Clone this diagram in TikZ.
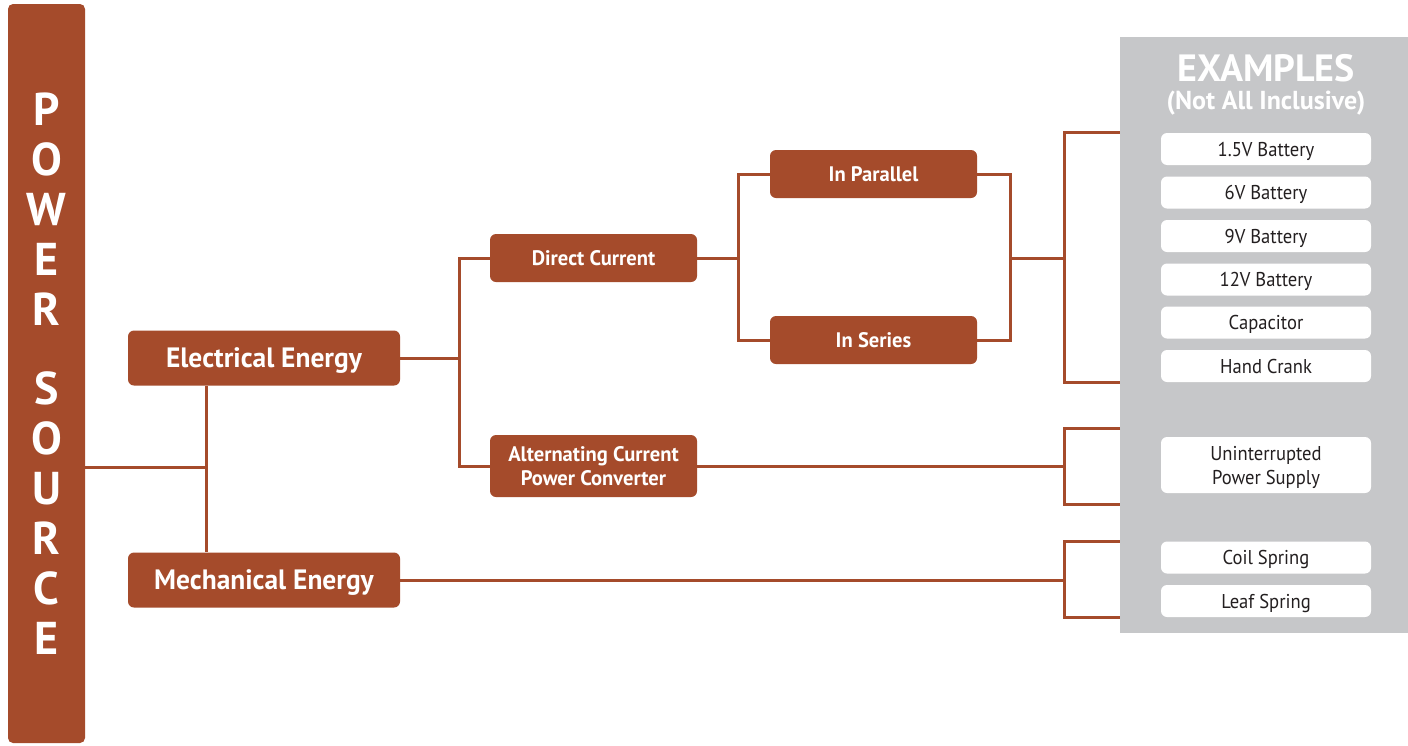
\documentclass[tikz,border=0pt]{standalone}
\usepackage{fontspec}
\setmainfont{PT Sans}
\newfontfamily\condfont{PT Sans}[FakeStretch=0.93]
\newfontfamily\catfont{PT Sans}[FakeStretch=0.98]
\definecolor{rust}{HTML}{A54B2B}
\definecolor{panelgray}{HTML}{C6C7C9}
\definecolor{ink}{HTML}{231F20}
\tikzset{
  catbox/.style={fill=rust, rounded corners=6pt, text=white, inner sep=0pt, align=center,
    text depth=0pt, font=\catfont\bfseries\fontsize{21}{24}\selectfont},
  bigcat/.style={catbox, minimum width=272pt, minimum height=55pt,
    font=\catfont\bfseries\fontsize{28}{30}\selectfont},
  midcat/.style={catbox, minimum width=207pt, minimum height=48pt},
  exbox/.style={fill=white, rounded corners=6pt, text=ink, inner sep=0pt, align=center,
    text depth=0pt, minimum width=210pt, minimum height=32pt,
    font=\condfont\fontsize{20}{24}\selectfont},
  link/.style={draw=rust, line width=3pt, line join=miter}
}
\begin{document}
\begin{tikzpicture}[x=1pt,y=-1pt]
\useasboundingbox (0,0) rectangle (1408,745);

% vertical title bar
\node[fill=rust, rounded corners=5pt, minimum width=77pt, minimum height=739pt, inner sep=0pt] (ps) at (46.5,373.5) {};
\node[text=white, align=center, inner sep=0pt, font=\bfseries\fontsize{46}{50}\selectfont] (pstitle) at (46.5,373.5)
  {P\\O\\W\\E\\R\\[29pt]S\\O\\U\\R\\C\\E};

% categories
\node[bigcat] (elec) at (264,358) {Electrical Energy};
\node[bigcat] (mech) at (264,580) {Mechanical Energy};
\node[midcat] (dc) at (593.5,258) {Direct Current};
\node[catbox, minimum width=207pt, minimum height=62pt] (ac) at (593.5,466) {Alternating Current\\Power Converter};
\node[midcat] (par) at (873.5,174) {In Parallel};
\node[midcat] (ser) at (873.5,340) {In Series};

% examples panel
\node[fill=panelgray, minimum width=288pt, minimum height=596pt, inner sep=0pt] (panel) at (1264,335) {};
\node[text=white, inner sep=0pt, font=\bfseries\fontsize{38}{42}\selectfont] (extitle) at (1266,68) {EXAMPLES};
\node[text=white, inner sep=0pt, font=\bfseries\fontsize{26}{28}\selectfont] (exsub) at (1266,103) {(Not All Inclusive)};
\node[exbox] (b15) at (1266,149) {1.5V Battery};
\node[exbox] (b6) at (1266,192.5) {6V Battery};
\node[exbox] (b9) at (1266,236) {9V Battery};
\node[exbox] (b12) at (1266,279.5) {12V Battery};
\node[exbox] (capa) at (1266,322.5) {Capacitor};
\node[exbox] (crank) at (1266,366) {Hand Crank};
\node[exbox, minimum height=56pt] (ups) at (1266,465) {Uninterrupted\\Power Supply};
\node[exbox] (coil) at (1266,557.5) {Coil Spring};
\node[exbox] (leaf) at (1266,601) {Leaf Spring};

% junction points
\coordinate (j0) at (206,467);
\coordinate (j1) at (459,358);
\coordinate (j2) at (738,258);
\coordinate (j3) at (1010,258);
\coordinate (j4) at (1064,258);
\coordinate (j5) at (1064,466);
\coordinate (j6) at (1064,580);
\coordinate (acT) at (1120,428);
\coordinate (acB) at (1120,504);

% connectors
\draw[link] (ps.east |- j0) -- (j0);
\draw[link] (elec.south -| j0) -- (mech.north -| j0);
\draw[link] (elec.east |- j1) -- (j1);
\draw[link] (dc.west) -| (j1) |- (ac.west);
\draw[link] (dc.east |- j2) -- (j2);
\draw[link] (par.west) -| (j2) |- (ser.west);
\draw[link] (par.east) -| (j3) |- (ser.east);
\draw[link] (j3) -- (j4);
\draw[link] (panel.west |- b15.north) -| (j4) |- (panel.west |- crank.south);
\draw[link] (ac.east |- j5) -- (j5);
\draw[link] (acT) -| (j5) |- (acB);
\draw[link] (mech.east |- j6) -- (j6);
\draw[link] (panel.west |- coil.north) -| (j6) |- (panel.west |- leaf.south);
\end{tikzpicture}
\end{document}
